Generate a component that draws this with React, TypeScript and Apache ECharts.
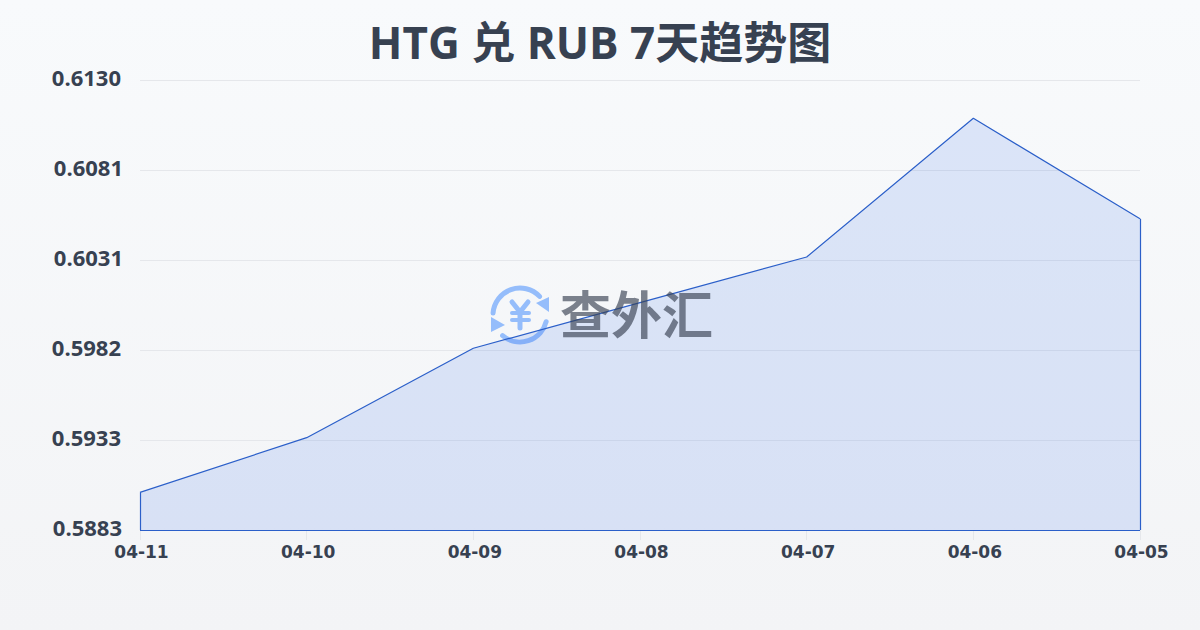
import React, { useEffect, useRef } from "react";
import * as echarts from "echarts";

const titleText = "HTG 兑 RUB 7天趋势图";
const categories = ["04-11", "04-10", "04-09", "04-08", "04-07", "04-06", "04-05"];
const rates = [0.5904, 0.5934, 0.5983, 0.6008, 0.6033, 0.6109, 0.6054];
const yTicks = [0.58834, 0.59327, 0.5982, 0.60313, 0.60807, 0.613];
const watermarkText = "查外汇";

const FONT = "'Open Sans', 'Noto Sans CJK SC', sans-serif";
const BLUE = "#2b5fc9";
const LOGO = "#95bdfb";
const INK = "#374151";

export default function App() {
  const ref = useRef<HTMLDivElement>(null);
  useEffect(() => {
    document.body.style.margin = "0";
    const chart = echarts.init(ref.current!, undefined, { renderer: "svg" });
    const yMin = yTicks[0];
    const yMax = yTicks[yTicks.length - 1];
    const first = categories[0];
    const last = categories[categories.length - 1];
    const labelStyle = { fontFamily: FONT, fontSize: 22, fontWeight: "bold", color: INK };
    const logoStroke = { stroke: LOGO, lineWidth: 5, fill: "none", lineCap: "round" };
    chart.setOption({
      animation: false,
      backgroundColor: {
        type: "linear", x: 0, y: 0, x2: 0, y2: 1,
        colorStops: [{ offset: 0, color: "#f8fafc" }, { offset: 1, color: "#f3f4f6" }],
      },
      title: {
        text: titleText, left: "center", top: 15,
        textStyle: { fontFamily: FONT, fontSize: 44, fontWeight: "bold", color: INK },
      },
      grid: { left: 140, right: 60, top: 80, bottom: 100 },
      xAxis: {
        type: "category", data: categories, boundaryGap: false,
        axisLine: { show: false },
        axisTick: { show: true, length: 10, lineStyle: { color: "#e5e7eb" } },
        axisLabel: { margin: 13, padding: [0, 0, 0, 3], fontFamily: "'DejaVu Sans', sans-serif", fontSize: 17, fontWeight: "bold", color: INK },
      },
      yAxis: {
        type: "value", min: yMin, max: yMax,
        axisLine: { show: false },
        axisTick: { show: false, customValues: yTicks },
        splitLine: { lineStyle: { color: "#e5e7eb", width: 1 } },
        axisLabel: {
          customValues: yTicks, margin: 17, padding: [0, 0, 6, 0], ...labelStyle,
          formatter: (v: number) => {
            const s = v.toFixed(4);
            if (s === "0.6081" || s === "0.6031") return `{r0|${s}}`;
            if (s === "0.5883") return `{r1|${s}}`;
            return `{r2|${s}}`;
          },
          rich: {
            r0: { ...labelStyle, padding: [0, 0, 0, 0] },
            r1: { ...labelStyle, padding: [0, 1, 0, 0] },
            r2: { ...labelStyle, padding: [0, 2, 0, 0] },
          },
        },
      },
      graphic: [
        {
          type: "group", z: 0, silent: true,
          children: [
            { type: "arc", shape: { cx: 520, cy: 315, r: 27, startAngle: -3.07, endAngle: -0.76 }, style: logoStroke },
            { type: "arc", shape: { cx: 520, cy: 315, r: 27, startAngle: 0.25, endAngle: 2.27 }, style: logoStroke },
            { type: "polygon", shape: { points: [[549, 297], [549, 312], [536, 303]] }, style: { fill: LOGO } },
            { type: "polygon", shape: { points: [[491, 317], [505, 325], [491, 332]] }, style: { fill: LOGO } },
            { type: "polyline", shape: { points: [[512, 302], [520, 312], [528, 302]] }, style: logoStroke },
            { type: "line", shape: { x1: 520, y1: 312, x2: 520, y2: 328 }, style: logoStroke },
            { type: "line", shape: { x1: 512, y1: 313, x2: 529, y2: 313 }, style: { ...logoStroke, lineWidth: 4 } },
            { type: "line", shape: { x1: 512, y1: 320, x2: 529, y2: 320 }, style: { ...logoStroke, lineWidth: 4 } },
          ],
        },
        {
          type: "text", z: 10, silent: true, x: 560, y: 286,
          style: { text: watermarkText, font: `bold 51px 'Noto Sans CJK SC'`, fill: "rgba(55,65,81,0.65)" },
        },
      ],
      series: [
        {
          type: "line", data: rates, symbol: "none", smooth: false, z: 3,
          lineStyle: { color: BLUE, width: 1.2 },
          areaStyle: { color: "rgba(37,99,235,0.135)", opacity: 1 },
          markLine: {
            silent: true, symbol: "none", animation: false, label: { show: false },
            lineStyle: { color: BLUE, width: 1.2, type: "solid" },
            data: [
              [{ xAxis: first, yAxis: rates[0] }, { xAxis: first, yAxis: yMin }],
              [{ xAxis: first, yAxis: yMin }, { xAxis: last, yAxis: yMin }],
              [{ xAxis: last, yAxis: yMin }, { xAxis: last, yAxis: rates[rates.length - 1] }],
            ],
          },
        },
      ],
    });
    return () => chart.dispose();
  }, []);
  return <div ref={ref} style={{ width: 1200, height: 630 }} />;
}
